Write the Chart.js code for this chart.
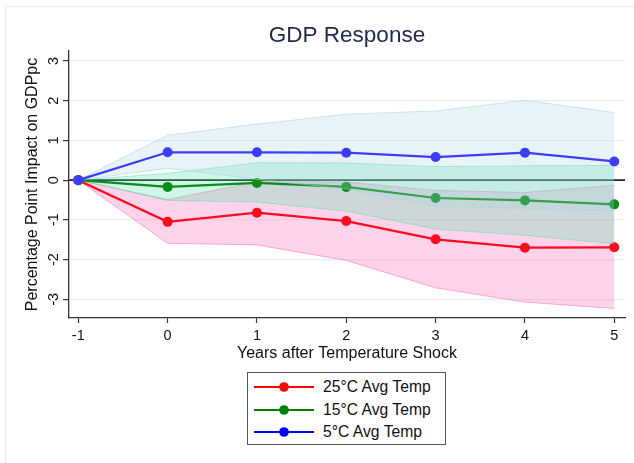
<!DOCTYPE html>
<html>
<head>
<meta charset="utf-8">
<script src="https://cdn.jsdelivr.net/npm/chart.js@4.4.1/dist/chart.umd.min.js"></script>
<style>
  html, body { margin: 0; padding: 0; background: #fff; }
  #wrap { position: relative; width: 634px; height: 463px; overflow: hidden; font-family: "Liberation Sans", Arial, sans-serif; }
  #frame { position: absolute; left: 5px; top: 6px; width: 700px; height: 600px; border-left: 1px solid #e3edf1; border-top: 1px solid #e3edf1; }
  #chart { position: absolute; left: 0; top: 0; }
  #legend { position: absolute; left: 247px; top: 372px; width: 197px; height: 71px; border: 1px solid #555; background: #fff; }
  .item { position: absolute; left: 6px; height: 20px; display: flex; align-items: center; font-size: 15.7px; color: #111; white-space: nowrap; }
  .item svg { margin-right: 9px; }
</style>
</head>
<body>
<div id="wrap">
  <div id="frame"></div>
  <canvas id="chart" width="634" height="463"></canvas>
  <div id="legend"></div>
</div>
<script>
// Horizon (years after the shock) and impulse responses with confidence bands
const years = [-1, 0, 1, 2, 3, 4, 5];
const yTicks = [-3, -2, -1, 0, 1, 2, 3];

const hot = [0, -1.05, -0.82, -1.03, -1.49, -1.70, -1.69];
const hotLow = [0, -1.59, -1.63, -2.02, -2.71, -3.07, -3.23];
const hotHigh = [0, -0.49, -0.04, -0.05, -0.26, -0.31, -0.13];

const mild = [0, -0.17, -0.07, -0.17, -0.45, -0.51, -0.61];
const mildLow = [0, -0.51, -0.55, -0.78, -1.23, -1.39, -1.60];
const mildHigh = [0, 0.17, 0.44, 0.43, 0.34, 0.36, 0.37];

const cold = [0, 0.70, 0.70, 0.69, 0.58, 0.69, 0.47];
const coldLow = [0, 0.30, 0.02, -0.22, -0.66, -0.71, -0.77];
const coldHigh = [0, 1.13, 1.41, 1.66, 1.74, 2.01, 1.70];

const seriesNames = ["25°C Avg Temp", "15°C Avg Temp", "5°C Avg Temp"];
const legendColors = ["#ff0000", "#008000", "#0000ff"];

const pts = arr => arr.map((v, i) => ({ x: years[i], y: v }));

function lineSet(label, arr, color) {
  return {
    label, data: pts(arr), borderColor: color, backgroundColor: color,
    borderWidth: 2.2, pointRadius: 5, pointHoverRadius: 5, pointBorderWidth: 0,
    pointBackgroundColor: color, fill: false, tension: 0, clip: false
  };
}
function bandEdge(arr, edge, fillColor, fillTarget) {
  return {
    label: "", data: pts(arr), borderColor: edge, borderWidth: 1,
    pointRadius: 0, backgroundColor: fillColor, fill: fillTarget, tension: 0
  };
}

// First dataset is drawn on top
const datasets = [
  lineSet(seriesNames[2], cold, "#3c3cfa"),
  bandEdge(coldHigh, "rgba(170,210,225,0.55)", "rgba(170,212,225,0.28)", "+1"),
  bandEdge(coldLow, "rgba(170,210,225,0.55)", "transparent", false),
  lineSet(seriesNames[1], mild, "#0a8c1a"),
  bandEdge(mildHigh, "rgba(80,225,170,0.5)", "rgba(80,225,170,0.28)", "+1"),
  bandEdge(mildLow, "rgba(80,225,170,0.5)", "transparent", false),
  lineSet(seriesNames[0], hot, "#ff0a1e"),
  bandEdge(hotHigh, "rgba(255,110,180,0.55)", "rgba(255,110,185,0.3)", "+1"),
  bandEdge(hotLow, "rgba(255,110,180,0.55)", "transparent", false)
];

const FONT = '"Liberation Sans", Arial, sans-serif';

const decor = {
  id: "decor",
  beforeDatasetsDraw(chart) {
    const { ctx, chartArea, scales } = chart;
    const y0 = scales.y.getPixelForValue(0);
    ctx.save();
    ctx.strokeStyle = "#222";
    ctx.lineWidth = 1.6;
    ctx.beginPath();
    ctx.moveTo(chartArea.left, y0);
    ctx.lineTo(chartArea.right, y0);
    ctx.stroke();
    ctx.restore();
  },
  afterDraw(chart) {
    const { ctx, chartArea, scales } = chart;
    const cx = (chartArea.left + chartArea.right) / 2;
    ctx.save();
    // title
    ctx.fillStyle = "#1e2a4a";
    ctx.font = "22.5px " + FONT;
    ctx.textAlign = "center";
    ctx.textBaseline = "middle";
    ctx.fillText("GDP Response", cx, 36);
    // rotated y tick labels
    ctx.fillStyle = "#111";
    ctx.font = "14.5px " + FONT;
    yTicks.forEach(v => {
      const py = scales.y.getPixelForValue(v);
      ctx.save();
      ctx.translate(54, py);
      ctx.rotate(-Math.PI / 2);
      ctx.fillText(String(v), 0, 0);
      ctx.restore();
    });
    // y axis title
    const cy = (chartArea.top + chartArea.bottom) / 2;
    ctx.font = "16px " + FONT;
    ctx.save();
    ctx.translate(33, cy);
    ctx.rotate(-Math.PI / 2);
    ctx.fillText("Percentage Point Impact on GDPpc", 0, 0);
    ctx.restore();
    // x axis title
    ctx.font = "16px " + FONT;
    ctx.fillText("Years after Temperature Shock", cx, 354);
    ctx.restore();
  }
};

new Chart(document.getElementById("chart"), {
  type: "line",
  data: { datasets },
  options: {
    responsive: false,
    animation: false,
    events: [],
    layout: { padding: { top: 51, right: 9, left: 0, bottom: 0 } },
    plugins: { legend: { display: false }, tooltip: { enabled: false }, title: { display: false } },
    scales: {
      x: {
        type: "linear", min: -1.104, max: 5.12,
        afterFit(s) { s.height = 145; },
        afterBuildTicks(s) { s.ticks = years.map(v => ({ value: v })); },
        grid: { drawOnChartArea: false, drawTicks: true, tickLength: 5, tickColor: "#333", tickWidth: 1.2 },
        border: { color: "#333", width: 1.3 },
        ticks: { color: "#111", font: { size: 14.5, family: FONT }, padding: 4, maxRotation: 0, autoSkip: false }
      },
      y: {
        type: "linear", min: -3.47, max: 3.25,
        afterFit(s) { s.width = 69; },
        afterBuildTicks(s) { s.ticks = yTicks.map(v => ({ value: v })); },
        grid: {
          color: ctx => (ctx.tick && ctx.tick.value === 0) ? "transparent" : "#e6f0f2",
          lineWidth: 1.2, tickLength: 6, tickColor: "#333", tickWidth: 1.2
        },
        border: { color: "#333", width: 1.3 },
        ticks: { color: "transparent", font: { size: 14 } }
      }
    }
  },
  plugins: [decor]
});

// legend entries: line with a marker, then the series name
const legend = document.getElementById("legend");
seriesNames.forEach((name, i) => {
  const row = document.createElement("div");
  row.className = "item";
  row.style.top = (4 + i * 22.5) + "px";
  const c = legendColors[i];
  row.innerHTML = '<svg width="60" height="12"><line x1="0" y1="6" x2="60" y2="6" stroke="' + c +
    '" stroke-width="2.2"/><circle cx="30" cy="6" r="4.8" fill="' + c + '"/></svg>';
  const span = document.createElement("span");
  span.textContent = name;
  row.appendChild(span);
  legend.appendChild(row);
});
</script>
</body>
</html>
